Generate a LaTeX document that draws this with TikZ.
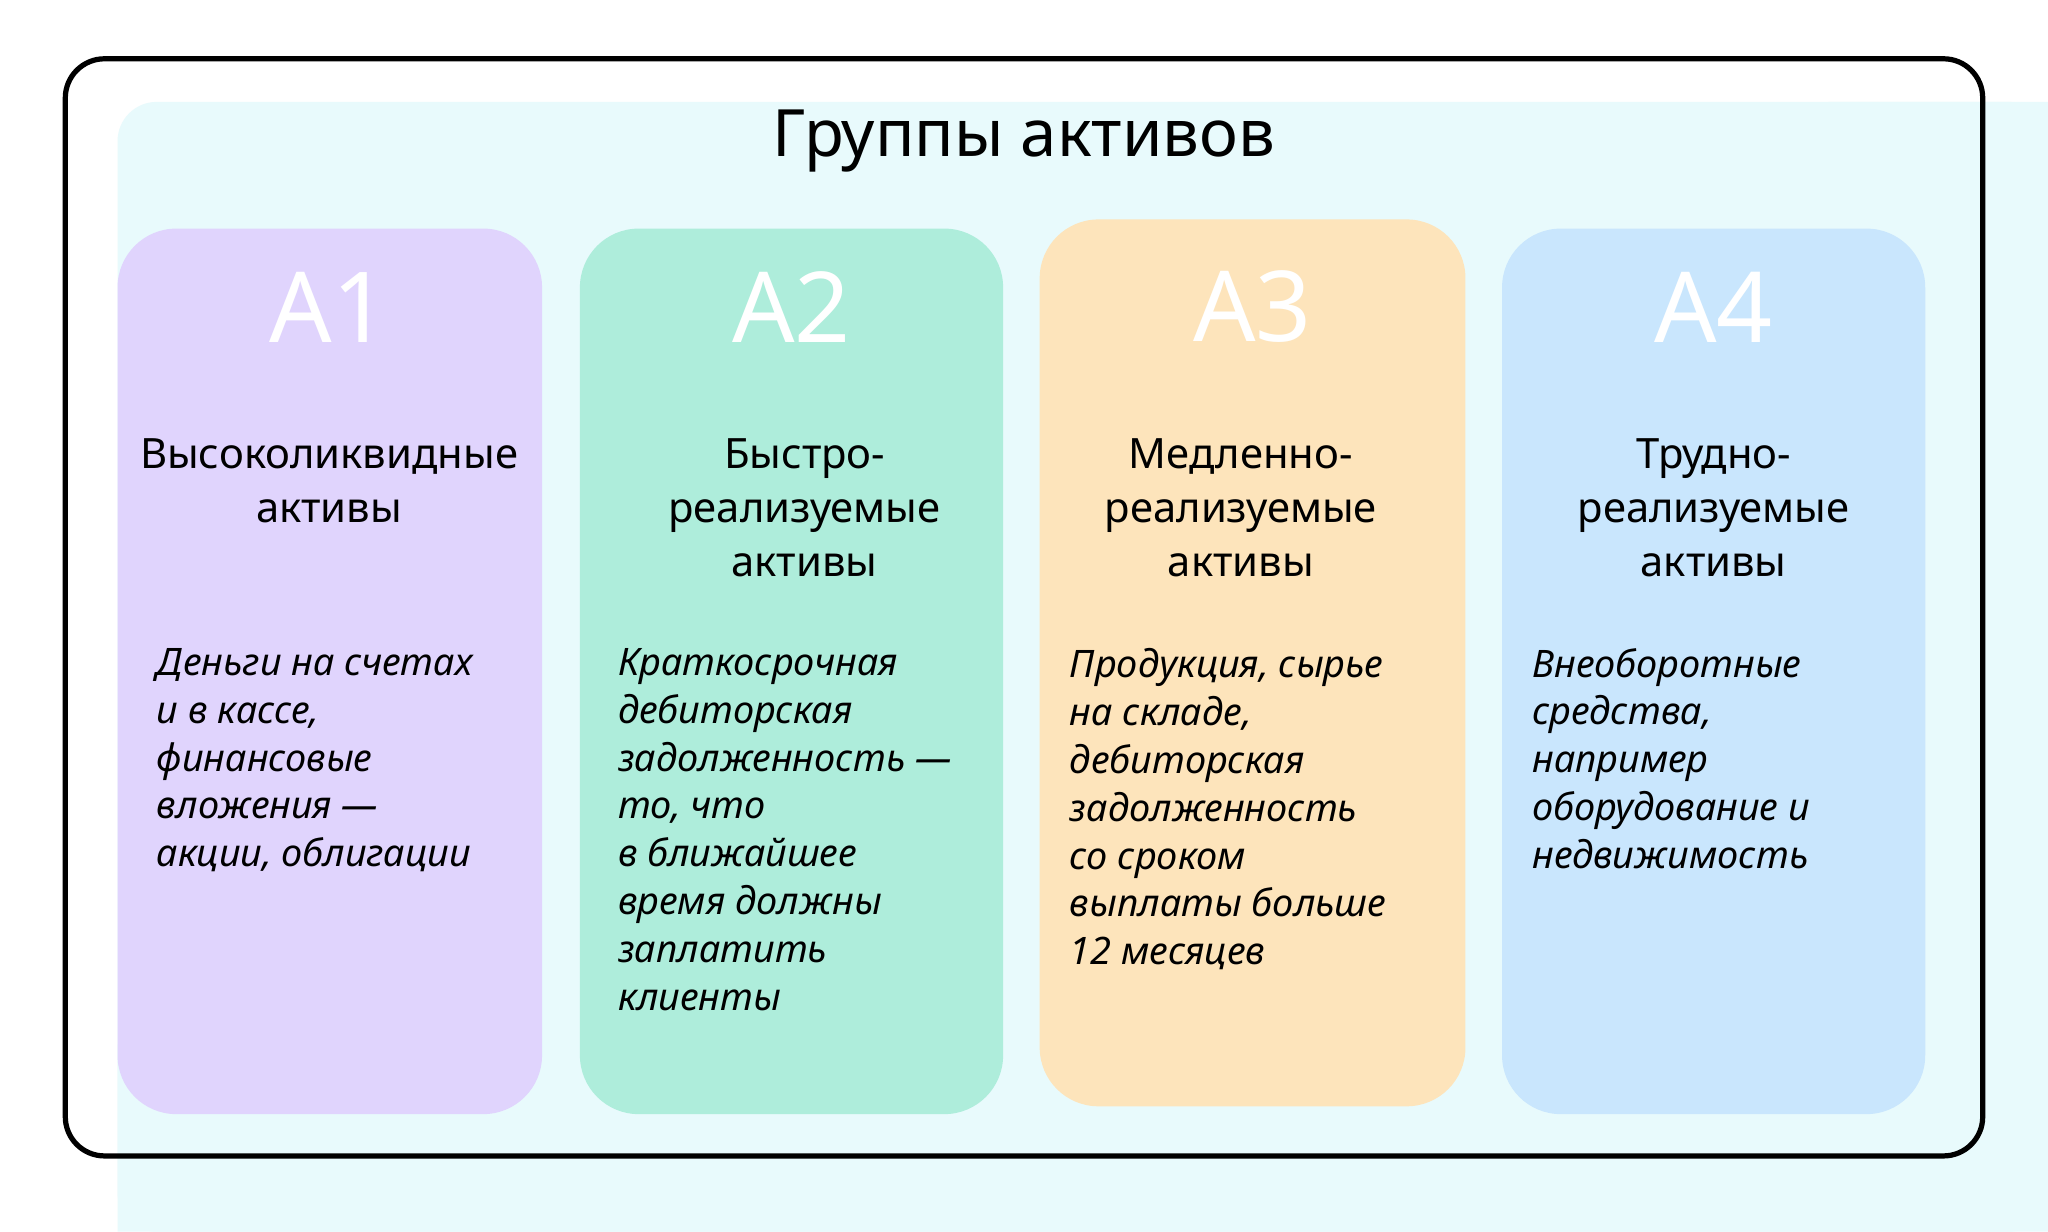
\documentclass[tikz,border=0pt]{standalone}
\usepackage{fontspec}
\setmainfont{Noto Sans}
\definecolor{bgc}{HTML}{E8FAFC}
\definecolor{ca}{HTML}{E0D4FD}
\definecolor{cb}{HTML}{AEEDDB}
\definecolor{cc}{HTML}{FDE4BB}
\definecolor{cd}{HTML}{C9E6FD}
\begin{document}
\begin{tikzpicture}[x=1pt,y=-1pt,
  card/.style={rounded corners=45pt},
  big/.style={text=white,font=\fontsize{75}{75}\selectfont\bfseries,inner sep=0},
  head/.style={anchor=north,align=center,inner sep=0,font=\fontsize{32}{41}\selectfont},
  body/.style={anchor=north west,align=left,inner sep=0,font=\fontsize{29}{36.7}\selectfont\itshape}]
\useasboundingbox (0,0) rectangle (1568,943);
\fill[white] (0,0) rectangle (1568,943);
\fill[bgc,rounded corners=30pt] (90,78) -- (1568,78) -- (1568,943) -- (90,943) -- cycle;
\fill[bgc] (1400,78) rectangle (1568,943) (90,800) rectangle (1568,943);
\draw[line width=4pt,rounded corners=30pt] (50,45) rectangle (1518,885);
\node[inner sep=0,font=\fontsize{50}{50}\selectfont] (title) at (784,108) {Группы активов};
\fill[ca,card] (90,175) rectangle (415,853);
\fill[cb,card] (444,175) rectangle (768,853);
\fill[cc,card] (796,168) rectangle (1122,847);
\fill[cd,card] (1150,175) rectangle (1474,853);
\node[big] (a1) at (252,235) {A1};
\node[big] (a2) at (606,235) {A2};
\node[big] (a3) at (959,235) {A3};
\node[big] (a4) at (1312,235) {A4};
\node[head] (h1) at (252,336) {Высоколиквидные\\активы};
\node[head] (h2) at (616,336) {Быстро-\\реализуемые\\активы};
\node[head] (h3) at (950,336) {Медленно-\\реализуемые\\активы};
\node[head] (h4) at (1312,336) {Трудно-\\реализуемые\\активы};
\node[body] (b1) at (120,496) {Деньги на счетах\\и в кассе,\\финансовые\\вложения —\\акции, облигации};
\node[body] (b2) at (473,496) {Краткосрочная\\дебиторская\\задолженность —\\то, что\\в ближайшее\\время должны\\заплатить\\клиенты};
\node[body] (b3) at (819,496) {Продукция, сырье\\на складе,\\дебиторская\\задолженность\\со сроком\\выплаты больше\\12 месяцев};
\node[body] (b4) at (1173,496) {Внеоборотные\\средства,\\например\\оборудование и\\недвижимость};
\end{tikzpicture}
\end{document}
